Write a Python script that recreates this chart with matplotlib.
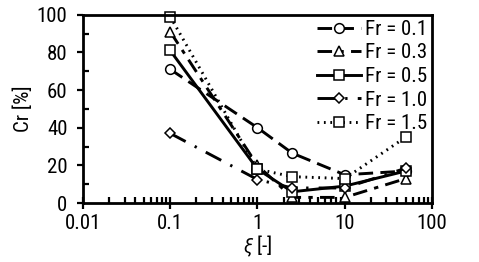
import matplotlib
matplotlib.use("Agg")
import matplotlib.pyplot as plt
from matplotlib import font_manager as fm
from matplotlib.ticker import LogLocator, FixedLocator, NullFormatter

names = {f.name for f in fm.fontManager.ttflist}
prefs = ["Liberation Sans Narrow", "Arial Narrow", "Roboto Condensed", "Archivo Narrow",
         "PT Sans Narrow", "Open Sans Condensed", "Fira Sans Condensed", "Liberation Sans"]
fam = next(p for p in prefs if p in names)
plt.rcParams['font.family'] = [fam, 'DejaVu Sans']
plt.rcParams['mathtext.fontset'] = 'custom'
plt.rcParams['mathtext.it'] = fam + ':italic'
plt.rcParams['mathtext.rm'] = fam

xi = [0.1, 1, 2.5, 10, 50]
labels = ["Fr = 0.1", "Fr = 0.3", "Fr = 0.5", "Fr = 1.0", "Fr = 1.5"]
cr_01 = [71, 40, 26.5, 15, 17]
cr_03 = [91, 20, 3, 3, 13]
cr_05 = [81, 18, 6, 9, 17]
cr_10 = [37, 12.5, 8, 8, 18.5]
cr_15 = [99, 18, 14, 13, 35]

series = [cr_01, cr_03, cr_05, cr_10, cr_15]
markers = ['o', '^', 's', 'D', 's']
msizes = [7, 7, 7, 5, 7]
styles = [(0, (5, 2.5)), (0, (5, 2.5, 1.5, 2.5)), '-', (0, (6, 3.5, 0.8, 3.5)), (0, (0.6, 1.6))]

fig = plt.figure(figsize=(4.79, 2.62), dpi=100)
ax = fig.add_axes([0.173, 0.225, 0.729, 0.719])

for y, m, ms, ls, lab in zip(series, markers, msizes, styles, labels):
    ax.plot(xi, y, linestyle=ls, color='black', lw=2.1, marker=m, ms=ms,
            mfc='white', mec='black', mew=1.1, label=lab, clip_on=False)

ax.set_xscale('log')
ax.set_xlim(0.01, 100)
ax.set_ylim(0, 100)
ax.set_yticks([0, 20, 40, 60, 80, 100])
ax.yaxis.set_minor_locator(FixedLocator([10, 30, 50, 70, 90]))
ax.set_xticks([0.01, 0.1, 1, 10, 100])
ax.set_xticklabels(["0.01", "0.1", "1", "10", "100"])
ax.xaxis.set_minor_locator(LogLocator(base=10, subs=range(2, 10)))
ax.xaxis.set_minor_formatter(NullFormatter())

FS = 15
for s in ax.spines.values():
    s.set_linewidth(2.0)
ax.tick_params(axis='x', which='major', direction='inout', length=8, width=1.6, labelsize=FS, pad=4)
ax.tick_params(axis='y', which='major', direction='out', length=4, width=1.6, labelsize=FS, pad=7)
ax.tick_params(which='minor', direction='in', length=4, width=1.6)

ax.set_xlabel(r"$\mathit{\xi}$ [-]", fontsize=FS, labelpad=0)
ax.set_ylabel("Cr [%]", fontsize=FS, labelpad=3)

leg = ax.legend(loc='upper right', frameon=False, fontsize=FS, handlelength=2.1,
                handletextpad=0.2, labelspacing=0.22, borderaxespad=0.0,
                borderpad=0.25)

fig.savefig("out.png", dpi=100)
